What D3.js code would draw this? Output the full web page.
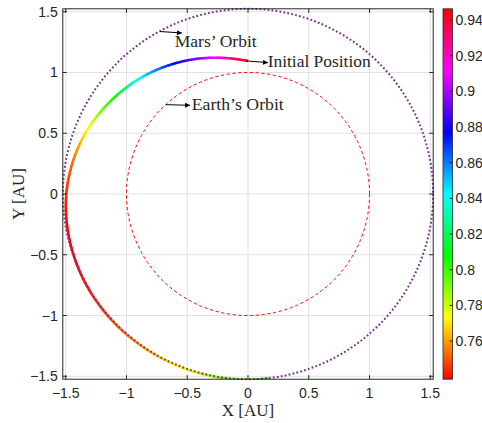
<!DOCTYPE html>
<html><head><meta charset="utf-8">
<script src="https://cdn.jsdelivr.net/npm/d3@7"></script>
<style>body{margin:0;background:#fff;}svg{display:block;}</style>
</head><body>
<svg id="chart" width="482" height="423"></svg>
<script>
// ---- data ----
const trajX = [0.000, -0.147, -0.301, -0.459, -0.618, -0.776, -0.928, -1.070, -1.199, -1.312, -1.401, -1.462, -1.495, -1.495, -1.465, -1.407, -1.322, -1.212, -1.081, -0.930, -0.764, -0.585, -0.396, -0.200, 0.000, 0.170];
const trajY = [1.095, 1.116, 1.121, 1.107, 1.070, 1.011, 0.928, 0.821, 0.693, 0.544, 0.375, 0.193, 0.000, -0.197, -0.393, -0.583, -0.764, -0.930, -1.081, -1.212, -1.323, -1.412, -1.476, -1.515, -1.528, -1.519];
const trajV = [0.9463, 0.929, 0.909, 0.891, 0.875, 0.858, 0.838, 0.811, 0.793, 0.7735, 0.759, 0.750, 0.744, 0.7395, 0.7386, 0.7395, 0.742, 0.7455, 0.753, 0.759, 0.765, 0.773, 0.781, 0.792, 0.800, 0.805];
const orbitNames = ["Earth", "Mars"];
const orbitR = [1.0, 1.524];
const axisTicks = [-1.5, -1, -0.5, 0, 0.5, 1, 1.5];
const cbarTicks = [0.76, 0.78, 0.80, 0.82, 0.84, 0.86, 0.88, 0.90, 0.92, 0.94];
const labels = {x: "X [AU]", y: "Y [AU]", mars: "Mars\u2019 Orbit", init: "Initial Position", earth: "Earth\u2019s Orbit"};

// ---- layout ----
const svg = d3.select("#chart");
const L = 62.8, R = 433.2, T = 8.8, B = 379.2;
const lim = 1.524;
const x = d3.scaleLinear().domain([-lim, lim]).range([L, R]);
const y = d3.scaleLinear().domain([-lim, lim]).range([B, T]);
const vExt = d3.extent(trajV);
const cy = d3.scaleLinear().domain(vExt).range([B, T]);
const hsv = v => d3.hsl(((v - vExt[0]) / (vExt[1] - vExt[0])) * 360, 1, 0.5).toString();
const fmt = d => (d < 0 ? "\u2212" : "") + String(Math.abs(d));
const tickFont = "'Liberation Sans', Arial, Helvetica, sans-serif";
const serif = "'Liberation Serif', 'Times New Roman', serif";
const axCol = "#262626";

svg.append("rect").attr("x", L).attr("y", T).attr("width", R - L).attr("height", B - T).attr("fill", "#fff");

// grid
const g = svg.append("g");
axisTicks.forEach(t => {
  g.append("line").attr("x1", x(t)).attr("x2", x(t)).attr("y1", T).attr("y2", B).attr("stroke", "#e1e1e1").attr("stroke-width", 1);
  g.append("line").attr("y1", y(t)).attr("y2", y(t)).attr("x1", L).attr("x2", R).attr("stroke", "#e1e1e1").attr("stroke-width", 1);
});

// trajectory (colored line)
const pts = trajX.map((d, i) => [x(d), y(trajY[i])]);
const line = d3.line().curve(d3.curveCatmullRom.alpha(0.5));
const tmp = svg.append("path").attr("d", line(pts)).attr("fill", "none").attr("stroke", "none");
const node = tmp.node();
const total = node.getTotalLength();
const N = 3000;
const samples = d3.range(N + 1).map(k => { const p = node.getPointAtLength(total * k / N); return [p.x, p.y, total * k / N]; });
const ptLen = [];
let start = 0;
pts.forEach((p, i) => {
  let best = start, bd = Infinity;
  for (let k = start; k <= N; k++) {
    const d = (samples[k][0] - p[0]) ** 2 + (samples[k][1] - p[1]) ** 2;
    if (d < bd) { bd = d; best = k; }
    if (d > bd + 400) break;
  }
  ptLen.push(samples[best][2]); start = best;
});
ptLen[0] = 0; ptLen[ptLen.length - 1] = total;
const vAt = d3.scaleLinear().domain(ptLen).range(trajV).clamp(true);
const clip = svg.append("clipPath").attr("id", "ax").append("rect").attr("x", L).attr("y", T).attr("width", R - L).attr("height", B - T);
const trajG = svg.append("g").attr("clip-path", "url(#ax)");
const step = 1.5;
for (let s = 0; s < total; s += step) {
  const a = node.getPointAtLength(s), b = node.getPointAtLength(Math.min(total, s + step + 0.6));
  trajG.append("line").attr("x1", a.x).attr("y1", a.y).attr("x2", b.x).attr("y2", b.y)
    .attr("stroke", hsv(vAt(s + step / 2))).attr("stroke-width", 2.5).attr("stroke-linecap", "butt");
}
tmp.remove();

// orbits
svg.append("circle").attr("cx", x(0)).attr("cy", y(0)).attr("r", x(orbitR[0]) - x(0))
  .attr("fill", "none").attr("stroke", "#ff0000").attr("stroke-width", 1).attr("stroke-dasharray", "3.2,2.6");
svg.append("circle").attr("cx", x(0)).attr("cy", y(0)).attr("r", x(orbitR[1]) - x(0))
  .attr("fill", "none").attr("stroke", "#7e2f8e").attr("stroke-width", 2).attr("stroke-dasharray", "1.8,2.2");

// box and ticks
svg.append("rect").attr("x", L).attr("y", T).attr("width", R - L).attr("height", B - T)
  .attr("fill", "none").attr("stroke", axCol).attr("stroke-width", 1);
const tl = 4;
axisTicks.forEach(t => {
  svg.append("line").attr("x1", x(t)).attr("x2", x(t)).attr("y1", B).attr("y2", B - tl).attr("stroke", axCol);
  svg.append("line").attr("x1", x(t)).attr("x2", x(t)).attr("y1", T).attr("y2", T + tl).attr("stroke", axCol);
  svg.append("line").attr("y1", y(t)).attr("y2", y(t)).attr("x1", L).attr("x2", L + tl).attr("stroke", axCol);
  svg.append("line").attr("y1", y(t)).attr("y2", y(t)).attr("x1", R).attr("x2", R - tl).attr("stroke", axCol);
  svg.append("text").attr("x", x(t)).attr("y", B + 19).attr("text-anchor", "middle")
    .attr("font-family", tickFont).attr("font-size", 14).attr("fill", axCol).text(fmt(t));
  svg.append("text").attr("x", L - 5).attr("y", y(t) + 5).attr("text-anchor", "end")
    .attr("font-family", tickFont).attr("font-size", 14).attr("fill", axCol).text(fmt(t));
});

// axis labels
svg.append("text").attr("x", x(0)).attr("y", 416).attr("text-anchor", "middle")
  .attr("font-family", serif).attr("font-size", 17).attr("fill", axCol).text(labels.x);
svg.append("text").attr("transform", `translate(24,${y(0)}) rotate(-90)`).attr("text-anchor", "middle")
  .attr("font-family", serif).attr("font-size", 17).attr("fill", axCol).text(labels.y);

// annotations
const defs = svg.append("defs");
defs.append("marker").attr("id", "ah").attr("viewBox", "0 0 10 10").attr("refX", 10).attr("refY", 5)
  .attr("markerWidth", 7).attr("markerHeight", 5).attr("markerUnits", "userSpaceOnUse").attr("orient", "auto")
  .append("path").attr("d", "M0,0 L10,5 L0,10 z").attr("fill", "#000");
const ann = [
  {t: labels.mars, x0: -0.724, y0: 1.337, x1: -0.543, y1: 1.325, tx: -0.603, ty: 1.21, w: 82},
  {t: labels.init, x0: -0.012, y0: 1.095, x1: 0.165, y1: 1.081, tx: 0.162, ty: 1.045, w: 103},
  {t: labels.earth, x0: -0.675, y0: 0.735, x1: -0.477, y1: 0.730, tx: -0.463, ty: 0.691, w: 92}
];
ann.forEach(a => {
  svg.append("line").attr("x1", x(a.x0)).attr("y1", y(a.y0)).attr("x2", x(a.x1)).attr("y2", y(a.y1))
    .attr("stroke", "#000").attr("stroke-width", 1).attr("marker-end", "url(#ah)");
  svg.append("text").attr("x", x(a.tx)).attr("y", y(a.ty)).attr("font-family", serif).attr("font-size", 16)
    .attr("fill", axCol).attr("textLength", a.w).attr("lengthAdjust", "spacingAndGlyphs").text(a.t);
});

// colorbar
const cbL = 443, cbW = 9.5;
const grad = defs.append("linearGradient").attr("id", "cb").attr("x1", 0).attr("y1", 1).attr("x2", 0).attr("y2", 0);
d3.range(0, 61).forEach(k => {
  const v = vExt[0] + (vExt[1] - vExt[0]) * k / 60;
  grad.append("stop").attr("offset", k / 60).attr("stop-color", hsv(v));
});
svg.append("rect").attr("x", cbL).attr("y", T).attr("width", cbW).attr("height", B - T).attr("fill", "url(#cb)")
  .attr("stroke", axCol).attr("stroke-width", 0.8);
cbarTicks.forEach(t => {
  svg.append("line").attr("x1", cbL + cbW).attr("x2", cbL + cbW - 3).attr("y1", cy(t)).attr("y2", cy(t)).attr("stroke", axCol);
  svg.append("text").attr("x", cbL + cbW + 3).attr("y", cy(t) + 5).attr("font-family", tickFont).attr("font-size", 14)
    .attr("fill", axCol).text(String(t));
});
</script>
</body></html>
